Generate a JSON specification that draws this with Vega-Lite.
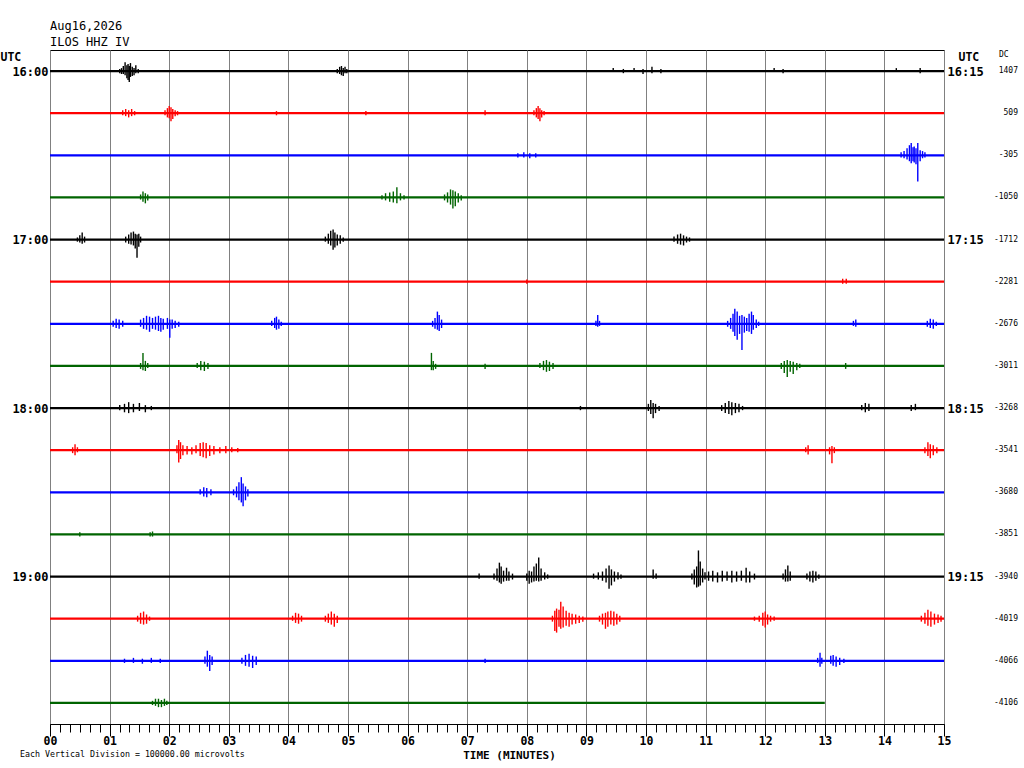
{
  "$schema": "https://vega.github.io/schema/vega-lite/v6.json",
  "width": 894,
  "height": 674,
  "autosize": "none",
  "padding": {"left": 50, "top": 50, "right": 80, "bottom": 44},
  "background": "white",
  "view": {"stroke": "black", "strokeWidth": 1},
  "title": {
    "text": ["Aug16,2026", "ILOS HHZ IV"],
    "anchor": "start",
    "frame": "group",
    "font": "DejaVu Sans Mono",
    "fontSize": 12,
    "fontWeight": "normal",
    "lineHeight": 16,
    "offset": 1,
    "color": "black"
  },
  "datasets": {
    "traces": [
      {"k": 0, "t0": 0, "t1": 15}, {"k": 1, "t0": 0, "t1": 15}, {"k": 2, "t0": 0, "t1": 15}, {"k": 3, "t0": 0, "t1": 15},
      {"k": 4, "t0": 0, "t1": 15}, {"k": 5, "t0": 0, "t1": 15}, {"k": 6, "t0": 0, "t1": 15}, {"k": 7, "t0": 0, "t1": 15},
      {"k": 8, "t0": 0, "t1": 15}, {"k": 9, "t0": 0, "t1": 15}, {"k": 10, "t0": 0, "t1": 15}, {"k": 11, "t0": 0, "t1": 15},
      {"k": 12, "t0": 0, "t1": 15}, {"k": 13, "t0": 0, "t1": 15}, {"k": 14, "t0": 0, "t1": 15}, {"k": 15, "t0": 0, "t1": 13}
    ],
    "wiggles": [
      {"k": 0, "t": 1.17, "y": -0.05, "y2": 0.05}, {"k": 0, "t": 1.2, "y": -0.07, "y2": 0.07}, {"k": 0, "t": 1.23, "y": -0.12, "y2": 0.07},
      {"k": 0, "t": 1.26, "y": -0.21, "y2": 0.1}, {"k": 0, "t": 1.29, "y": -0.14, "y2": 0.17}, {"k": 0, "t": 1.31, "y": -0.17, "y2": 0.21},
      {"k": 0, "t": 1.33, "y": -0.12, "y2": 0.26}, {"k": 0, "t": 1.35, "y": -0.19, "y2": 0.14}, {"k": 0, "t": 1.38, "y": -0.1, "y2": 0.12},
      {"k": 0, "t": 1.41, "y": -0.07, "y2": 0.1}, {"k": 0, "t": 1.44, "y": -0.14, "y2": 0.05}, {"k": 0, "t": 1.48, "y": -0.05, "y2": 0.05},
      {"k": 0, "t": 4.82, "y": -0.05, "y2": 0.05}, {"k": 0, "t": 4.86, "y": -0.1, "y2": 0.07}, {"k": 0, "t": 4.89, "y": -0.12, "y2": 0.1},
      {"k": 0, "t": 4.92, "y": -0.07, "y2": 0.12}, {"k": 0, "t": 4.95, "y": -0.1, "y2": 0.05}, {"k": 0, "t": 4.98, "y": -0.05, "y2": 0.05},
      {"k": 0, "t": 9.45, "y": -0.07, "y2": 0.02}, {"k": 0, "t": 9.62, "y": -0.05, "y2": 0.05}, {"k": 0, "t": 9.8, "y": -0.07, "y2": 0.02},
      {"k": 0, "t": 9.95, "y": -0.05, "y2": 0.07}, {"k": 0, "t": 10.1, "y": -0.1, "y2": 0.05}, {"k": 0, "t": 10.25, "y": -0.05, "y2": 0.05},
      {"k": 0, "t": 12.15, "y": -0.07, "y2": 0.02}, {"k": 0, "t": 12.3, "y": -0.05, "y2": 0.05}, {"k": 0, "t": 14.2, "y": -0.07, "y2": 0.02},
      {"k": 0, "t": 14.6, "y": -0.07, "y2": 0.05},

      {"k": 1, "t": 1.22, "y": 0.93, "y2": 1.05}, {"k": 1, "t": 1.27, "y": 0.9, "y2": 1.07}, {"k": 1, "t": 1.32, "y": 0.93, "y2": 1.1},
      {"k": 1, "t": 1.37, "y": 0.9, "y2": 1.07}, {"k": 1, "t": 1.42, "y": 0.95, "y2": 1.05}, {"k": 1, "t": 1.93, "y": 0.93, "y2": 1.05},
      {"k": 1, "t": 1.97, "y": 0.88, "y2": 1.1}, {"k": 1, "t": 2.0, "y": 0.83, "y2": 1.12}, {"k": 1, "t": 2.03, "y": 0.86, "y2": 1.19},
      {"k": 1, "t": 2.06, "y": 0.9, "y2": 1.14}, {"k": 1, "t": 2.1, "y": 0.93, "y2": 1.07}, {"k": 1, "t": 2.14, "y": 0.95, "y2": 1.05},
      {"k": 1, "t": 8.12, "y": 0.93, "y2": 1.05}, {"k": 1, "t": 8.16, "y": 0.88, "y2": 1.1}, {"k": 1, "t": 8.19, "y": 0.83, "y2": 1.14},
      {"k": 1, "t": 8.22, "y": 0.88, "y2": 1.19}, {"k": 1, "t": 8.25, "y": 0.93, "y2": 1.1}, {"k": 1, "t": 8.29, "y": 0.95, "y2": 1.05},
      {"k": 1, "t": 3.8, "y": 0.95, "y2": 1.05}, {"k": 1, "t": 5.3, "y": 0.95, "y2": 1.05}, {"k": 1, "t": 7.3, "y": 0.93, "y2": 1.05},

      {"k": 2, "t": 7.85, "y": 1.95, "y2": 2.05}, {"k": 2, "t": 7.95, "y": 1.93, "y2": 2.05}, {"k": 2, "t": 8.05, "y": 1.95, "y2": 2.07},
      {"k": 2, "t": 8.15, "y": 1.95, "y2": 2.05}, {"k": 2, "t": 14.28, "y": 1.93, "y2": 2.05}, {"k": 2, "t": 14.33, "y": 1.9, "y2": 2.07},
      {"k": 2, "t": 14.38, "y": 1.83, "y2": 2.1}, {"k": 2, "t": 14.42, "y": 1.76, "y2": 2.14}, {"k": 2, "t": 14.45, "y": 1.71, "y2": 2.19},
      {"k": 2, "t": 14.48, "y": 1.81, "y2": 2.14}, {"k": 2, "t": 14.5, "y": 1.79, "y2": 2.17}, {"k": 2, "t": 14.53, "y": 1.83, "y2": 2.21},
      {"k": 2, "t": 14.56, "y": 1.71, "y2": 2.62}, {"k": 2, "t": 14.6, "y": 1.88, "y2": 2.14}, {"k": 2, "t": 14.64, "y": 1.9, "y2": 2.07},
      {"k": 2, "t": 14.68, "y": 1.93, "y2": 2.05},

      {"k": 3, "t": 1.52, "y": 2.93, "y2": 3.05}, {"k": 3, "t": 1.56, "y": 2.86, "y2": 3.1}, {"k": 3, "t": 1.6, "y": 2.9, "y2": 3.14},
      {"k": 3, "t": 1.64, "y": 2.93, "y2": 3.07}, {"k": 3, "t": 5.57, "y": 2.95, "y2": 3.05}, {"k": 3, "t": 5.63, "y": 2.9, "y2": 3.07},
      {"k": 3, "t": 5.7, "y": 2.88, "y2": 3.1}, {"k": 3, "t": 5.76, "y": 2.86, "y2": 3.12}, {"k": 3, "t": 5.82, "y": 2.76, "y2": 3.14},
      {"k": 3, "t": 5.88, "y": 2.9, "y2": 3.07}, {"k": 3, "t": 5.94, "y": 2.95, "y2": 3.05}, {"k": 3, "t": 6.62, "y": 2.93, "y2": 3.07},
      {"k": 3, "t": 6.67, "y": 2.88, "y2": 3.12}, {"k": 3, "t": 6.72, "y": 2.81, "y2": 3.17}, {"k": 3, "t": 6.76, "y": 2.83, "y2": 3.26},
      {"k": 3, "t": 6.8, "y": 2.86, "y2": 3.21}, {"k": 3, "t": 6.85, "y": 2.9, "y2": 3.12}, {"k": 3, "t": 6.9, "y": 2.95, "y2": 3.07},

      {"k": 4, "t": 0.46, "y": 3.95, "y2": 4.05}, {"k": 4, "t": 0.5, "y": 3.9, "y2": 4.07}, {"k": 4, "t": 0.54, "y": 3.83, "y2": 4.1},
      {"k": 4, "t": 0.58, "y": 3.93, "y2": 4.07}, {"k": 4, "t": 1.27, "y": 3.93, "y2": 4.07}, {"k": 4, "t": 1.32, "y": 3.88, "y2": 4.1},
      {"k": 4, "t": 1.36, "y": 3.83, "y2": 4.12}, {"k": 4, "t": 1.4, "y": 3.81, "y2": 4.14}, {"k": 4, "t": 1.43, "y": 3.86, "y2": 4.21},
      {"k": 4, "t": 1.46, "y": 3.88, "y2": 4.43}, {"k": 4, "t": 1.49, "y": 3.86, "y2": 4.17}, {"k": 4, "t": 1.52, "y": 3.93, "y2": 4.07},
      {"k": 4, "t": 4.62, "y": 3.93, "y2": 4.05}, {"k": 4, "t": 4.67, "y": 3.86, "y2": 4.1}, {"k": 4, "t": 4.71, "y": 3.79, "y2": 4.14},
      {"k": 4, "t": 4.75, "y": 3.76, "y2": 4.24}, {"k": 4, "t": 4.78, "y": 3.83, "y2": 4.19}, {"k": 4, "t": 4.82, "y": 3.88, "y2": 4.14},
      {"k": 4, "t": 4.87, "y": 3.9, "y2": 4.1}, {"k": 4, "t": 4.92, "y": 3.95, "y2": 4.05}, {"k": 4, "t": 10.47, "y": 3.93, "y2": 4.05},
      {"k": 4, "t": 10.53, "y": 3.88, "y2": 4.1}, {"k": 4, "t": 10.58, "y": 3.86, "y2": 4.12}, {"k": 4, "t": 10.63, "y": 3.9, "y2": 4.14},
      {"k": 4, "t": 10.68, "y": 3.93, "y2": 4.07}, {"k": 4, "t": 10.73, "y": 3.95, "y2": 4.05},

      {"k": 5, "t": 8.0, "y": 4.95, "y2": 5.05}, {"k": 5, "t": 13.3, "y": 4.93, "y2": 5.05}, {"k": 5, "t": 13.36, "y": 4.93, "y2": 5.05},

      {"k": 6, "t": 1.06, "y": 5.93, "y2": 6.07}, {"k": 6, "t": 1.11, "y": 5.88, "y2": 6.1}, {"k": 6, "t": 1.16, "y": 5.9, "y2": 6.12},
      {"k": 6, "t": 1.22, "y": 5.93, "y2": 6.07}, {"k": 6, "t": 1.52, "y": 5.9, "y2": 6.07}, {"k": 6, "t": 1.57, "y": 5.86, "y2": 6.12},
      {"k": 6, "t": 1.62, "y": 5.81, "y2": 6.14}, {"k": 6, "t": 1.67, "y": 5.83, "y2": 6.19}, {"k": 6, "t": 1.72, "y": 5.86, "y2": 6.12},
      {"k": 6, "t": 1.77, "y": 5.83, "y2": 6.14}, {"k": 6, "t": 1.82, "y": 5.81, "y2": 6.17}, {"k": 6, "t": 1.86, "y": 5.86, "y2": 6.19},
      {"k": 6, "t": 1.9, "y": 5.88, "y2": 6.14}, {"k": 6, "t": 1.97, "y": 5.86, "y2": 6.12}, {"k": 6, "t": 2.01, "y": 5.9, "y2": 6.33},
      {"k": 6, "t": 2.05, "y": 5.9, "y2": 6.12}, {"k": 6, "t": 2.1, "y": 5.93, "y2": 6.1}, {"k": 6, "t": 2.16, "y": 5.95, "y2": 6.07},
      {"k": 6, "t": 3.72, "y": 5.93, "y2": 6.05}, {"k": 6, "t": 3.77, "y": 5.86, "y2": 6.1}, {"k": 6, "t": 3.8, "y": 5.83, "y2": 6.14},
      {"k": 6, "t": 3.84, "y": 5.9, "y2": 6.12}, {"k": 6, "t": 3.88, "y": 5.95, "y2": 6.05}, {"k": 6, "t": 6.42, "y": 5.93, "y2": 6.07},
      {"k": 6, "t": 6.46, "y": 5.86, "y2": 6.12}, {"k": 6, "t": 6.5, "y": 5.71, "y2": 6.14}, {"k": 6, "t": 6.53, "y": 5.79, "y2": 6.17},
      {"k": 6, "t": 6.57, "y": 5.9, "y2": 6.1}, {"k": 6, "t": 9.16, "y": 5.93, "y2": 6.05}, {"k": 6, "t": 9.19, "y": 5.79, "y2": 6.07},
      {"k": 6, "t": 9.22, "y": 5.93, "y2": 6.05}, {"k": 6, "t": 11.37, "y": 5.93, "y2": 6.07}, {"k": 6, "t": 11.42, "y": 5.86, "y2": 6.12},
      {"k": 6, "t": 11.46, "y": 5.76, "y2": 6.19}, {"k": 6, "t": 11.49, "y": 5.64, "y2": 6.29}, {"k": 6, "t": 11.53, "y": 5.71, "y2": 6.38},
      {"k": 6, "t": 11.57, "y": 5.81, "y2": 6.24}, {"k": 6, "t": 11.61, "y": 5.79, "y2": 6.62}, {"k": 6, "t": 11.65, "y": 5.83, "y2": 6.21},
      {"k": 6, "t": 11.69, "y": 5.86, "y2": 6.17}, {"k": 6, "t": 11.73, "y": 5.76, "y2": 6.19}, {"k": 6, "t": 11.77, "y": 5.71, "y2": 6.24},
      {"k": 6, "t": 11.8, "y": 5.79, "y2": 6.14}, {"k": 6, "t": 11.85, "y": 5.9, "y2": 6.1}, {"k": 6, "t": 11.89, "y": 5.95, "y2": 6.05},
      {"k": 6, "t": 13.48, "y": 5.93, "y2": 6.05}, {"k": 6, "t": 13.52, "y": 5.9, "y2": 6.07}, {"k": 6, "t": 14.72, "y": 5.93, "y2": 6.07},
      {"k": 6, "t": 14.77, "y": 5.88, "y2": 6.1}, {"k": 6, "t": 14.82, "y": 5.9, "y2": 6.12}, {"k": 6, "t": 14.87, "y": 5.95, "y2": 6.05},

      {"k": 7, "t": 1.52, "y": 6.93, "y2": 7.07}, {"k": 7, "t": 1.56, "y": 6.69, "y2": 7.1}, {"k": 7, "t": 1.6, "y": 6.88, "y2": 7.12},
      {"k": 7, "t": 1.64, "y": 6.93, "y2": 7.05}, {"k": 7, "t": 2.47, "y": 6.93, "y2": 7.05}, {"k": 7, "t": 2.53, "y": 6.88, "y2": 7.1},
      {"k": 7, "t": 2.59, "y": 6.9, "y2": 7.12}, {"k": 7, "t": 2.65, "y": 6.93, "y2": 7.07}, {"k": 7, "t": 6.4, "y": 6.69, "y2": 7.1},
      {"k": 7, "t": 6.43, "y": 6.88, "y2": 7.1}, {"k": 7, "t": 6.47, "y": 6.95, "y2": 7.07}, {"k": 7, "t": 7.3, "y": 6.95, "y2": 7.07},
      {"k": 7, "t": 8.22, "y": 6.93, "y2": 7.05}, {"k": 7, "t": 8.28, "y": 6.88, "y2": 7.1}, {"k": 7, "t": 8.33, "y": 6.86, "y2": 7.14},
      {"k": 7, "t": 8.38, "y": 6.9, "y2": 7.12}, {"k": 7, "t": 8.44, "y": 6.93, "y2": 7.07}, {"k": 7, "t": 12.27, "y": 6.93, "y2": 7.07},
      {"k": 7, "t": 12.32, "y": 6.88, "y2": 7.17}, {"k": 7, "t": 12.37, "y": 6.86, "y2": 7.26}, {"k": 7, "t": 12.42, "y": 6.88, "y2": 7.14},
      {"k": 7, "t": 12.47, "y": 6.9, "y2": 7.19}, {"k": 7, "t": 12.53, "y": 6.93, "y2": 7.1}, {"k": 7, "t": 12.58, "y": 6.95, "y2": 7.05},
      {"k": 7, "t": 13.35, "y": 6.93, "y2": 7.07},

      {"k": 8, "t": 1.17, "y": 7.93, "y2": 8.05}, {"k": 8, "t": 1.25, "y": 7.9, "y2": 8.1}, {"k": 8, "t": 1.32, "y": 7.86, "y2": 8.12},
      {"k": 8, "t": 1.4, "y": 7.9, "y2": 8.1}, {"k": 8, "t": 1.5, "y": 7.88, "y2": 8.07}, {"k": 8, "t": 1.6, "y": 7.93, "y2": 8.1},
      {"k": 8, "t": 1.7, "y": 7.95, "y2": 8.05}, {"k": 8, "t": 8.9, "y": 7.95, "y2": 8.05}, {"k": 8, "t": 10.04, "y": 7.9, "y2": 8.07},
      {"k": 8, "t": 10.08, "y": 7.81, "y2": 8.14}, {"k": 8, "t": 10.12, "y": 7.88, "y2": 8.24}, {"k": 8, "t": 10.16, "y": 7.9, "y2": 8.12},
      {"k": 8, "t": 10.22, "y": 7.95, "y2": 8.07}, {"k": 8, "t": 11.27, "y": 7.93, "y2": 8.07}, {"k": 8, "t": 11.33, "y": 7.88, "y2": 8.12},
      {"k": 8, "t": 11.39, "y": 7.83, "y2": 8.14}, {"k": 8, "t": 11.44, "y": 7.86, "y2": 8.17}, {"k": 8, "t": 11.5, "y": 7.88, "y2": 8.12},
      {"k": 8, "t": 11.56, "y": 7.9, "y2": 8.1}, {"k": 8, "t": 11.62, "y": 7.95, "y2": 8.05}, {"k": 8, "t": 13.62, "y": 7.93, "y2": 8.05},
      {"k": 8, "t": 13.68, "y": 7.88, "y2": 8.1}, {"k": 8, "t": 13.74, "y": 7.9, "y2": 8.07}, {"k": 8, "t": 14.45, "y": 7.93, "y2": 8.07},
      {"k": 8, "t": 14.52, "y": 7.9, "y2": 8.05},

      {"k": 9, "t": 0.38, "y": 8.93, "y2": 9.07}, {"k": 9, "t": 0.42, "y": 8.86, "y2": 9.12}, {"k": 9, "t": 0.46, "y": 8.93, "y2": 9.05},
      {"k": 9, "t": 2.13, "y": 8.88, "y2": 9.07}, {"k": 9, "t": 2.16, "y": 8.76, "y2": 9.29}, {"k": 9, "t": 2.19, "y": 8.81, "y2": 9.21},
      {"k": 9, "t": 2.23, "y": 8.88, "y2": 9.12}, {"k": 9, "t": 2.3, "y": 8.9, "y2": 9.1}, {"k": 9, "t": 2.38, "y": 8.93, "y2": 9.1},
      {"k": 9, "t": 2.45, "y": 8.88, "y2": 9.07}, {"k": 9, "t": 2.52, "y": 8.83, "y2": 9.14}, {"k": 9, "t": 2.57, "y": 8.81, "y2": 9.17},
      {"k": 9, "t": 2.62, "y": 8.83, "y2": 9.19}, {"k": 9, "t": 2.68, "y": 8.88, "y2": 9.14}, {"k": 9, "t": 2.75, "y": 8.9, "y2": 9.1},
      {"k": 9, "t": 2.85, "y": 8.93, "y2": 9.07}, {"k": 9, "t": 2.95, "y": 8.9, "y2": 9.07}, {"k": 9, "t": 3.05, "y": 8.93, "y2": 9.05},
      {"k": 9, "t": 3.15, "y": 8.95, "y2": 9.05}, {"k": 9, "t": 12.68, "y": 8.93, "y2": 9.05}, {"k": 9, "t": 12.72, "y": 8.88, "y2": 9.1},
      {"k": 9, "t": 13.08, "y": 8.93, "y2": 9.1}, {"k": 9, "t": 13.12, "y": 8.9, "y2": 9.31}, {"k": 9, "t": 13.16, "y": 8.93, "y2": 9.07},
      {"k": 9, "t": 14.68, "y": 8.93, "y2": 9.07}, {"k": 9, "t": 14.73, "y": 8.81, "y2": 9.14}, {"k": 9, "t": 14.77, "y": 8.86, "y2": 9.19},
      {"k": 9, "t": 14.82, "y": 8.88, "y2": 9.12}, {"k": 9, "t": 14.88, "y": 8.93, "y2": 9.07},

      {"k": 10, "t": 2.52, "y": 9.93, "y2": 10.05}, {"k": 10, "t": 2.58, "y": 9.88, "y2": 10.1}, {"k": 10, "t": 2.63, "y": 9.9, "y2": 10.12},
      {"k": 10, "t": 2.7, "y": 9.93, "y2": 10.07}, {"k": 10, "t": 3.08, "y": 9.93, "y2": 10.07}, {"k": 10, "t": 3.13, "y": 9.86, "y2": 10.12},
      {"k": 10, "t": 3.17, "y": 9.76, "y2": 10.19}, {"k": 10, "t": 3.21, "y": 9.64, "y2": 10.24}, {"k": 10, "t": 3.24, "y": 9.79, "y2": 10.33},
      {"k": 10, "t": 3.28, "y": 9.86, "y2": 10.19}, {"k": 10, "t": 3.32, "y": 9.93, "y2": 10.1},

      {"k": 11, "t": 0.5, "y": 10.95, "y2": 11.05}, {"k": 11, "t": 1.68, "y": 10.95, "y2": 11.05}, {"k": 11, "t": 1.72, "y": 10.93, "y2": 11.05},

      {"k": 12, "t": 7.2, "y": 11.93, "y2": 12.05}, {"k": 12, "t": 7.45, "y": 11.93, "y2": 12.07}, {"k": 12, "t": 7.5, "y": 11.81, "y2": 12.1},
      {"k": 12, "t": 7.54, "y": 11.67, "y2": 12.14}, {"k": 12, "t": 7.57, "y": 11.76, "y2": 12.17}, {"k": 12, "t": 7.61, "y": 11.86, "y2": 12.12},
      {"k": 12, "t": 7.66, "y": 11.79, "y2": 12.1}, {"k": 12, "t": 7.7, "y": 11.88, "y2": 12.1}, {"k": 12, "t": 7.76, "y": 11.93, "y2": 12.07},
      {"k": 12, "t": 8.0, "y": 11.93, "y2": 12.1}, {"k": 12, "t": 8.04, "y": 11.86, "y2": 12.17}, {"k": 12, "t": 8.08, "y": 11.88, "y2": 12.14},
      {"k": 12, "t": 8.12, "y": 11.76, "y2": 12.12}, {"k": 12, "t": 8.16, "y": 11.69, "y2": 12.1}, {"k": 12, "t": 8.2, "y": 11.55, "y2": 12.12},
      {"k": 12, "t": 8.24, "y": 11.81, "y2": 12.1}, {"k": 12, "t": 8.3, "y": 11.9, "y2": 12.07}, {"k": 12, "t": 8.35, "y": 11.95, "y2": 12.05},
      {"k": 12, "t": 9.12, "y": 11.93, "y2": 12.05}, {"k": 12, "t": 9.2, "y": 11.9, "y2": 12.07}, {"k": 12, "t": 9.27, "y": 11.88, "y2": 12.1},
      {"k": 12, "t": 9.33, "y": 11.81, "y2": 12.14}, {"k": 12, "t": 9.38, "y": 11.74, "y2": 12.29}, {"k": 12, "t": 9.42, "y": 11.83, "y2": 12.21},
      {"k": 12, "t": 9.47, "y": 11.88, "y2": 12.12}, {"k": 12, "t": 9.53, "y": 11.9, "y2": 12.07}, {"k": 12, "t": 9.58, "y": 11.95, "y2": 12.05},
      {"k": 12, "t": 10.12, "y": 11.83, "y2": 12.05}, {"k": 12, "t": 10.17, "y": 11.93, "y2": 12.05}, {"k": 12, "t": 10.77, "y": 11.93, "y2": 12.07},
      {"k": 12, "t": 10.81, "y": 11.83, "y2": 12.19}, {"k": 12, "t": 10.85, "y": 11.76, "y2": 12.26}, {"k": 12, "t": 10.88, "y": 11.38, "y2": 12.24},
      {"k": 12, "t": 10.91, "y": 11.64, "y2": 12.21}, {"k": 12, "t": 10.95, "y": 11.81, "y2": 12.14}, {"k": 12, "t": 10.99, "y": 11.9, "y2": 12.07},
      {"k": 12, "t": 11.05, "y": 11.88, "y2": 12.1}, {"k": 12, "t": 11.12, "y": 11.86, "y2": 12.12}, {"k": 12, "t": 11.2, "y": 11.9, "y2": 12.14},
      {"k": 12, "t": 11.28, "y": 11.86, "y2": 12.12}, {"k": 12, "t": 11.36, "y": 11.88, "y2": 12.1}, {"k": 12, "t": 11.44, "y": 11.86, "y2": 12.14},
      {"k": 12, "t": 11.52, "y": 11.88, "y2": 12.12}, {"k": 12, "t": 11.6, "y": 11.86, "y2": 12.1}, {"k": 12, "t": 11.68, "y": 11.79, "y2": 12.14},
      {"k": 12, "t": 11.74, "y": 11.88, "y2": 12.14}, {"k": 12, "t": 11.82, "y": 11.93, "y2": 12.07}, {"k": 12, "t": 12.3, "y": 11.93, "y2": 12.07},
      {"k": 12, "t": 12.34, "y": 11.83, "y2": 12.12}, {"k": 12, "t": 12.38, "y": 11.74, "y2": 12.12}, {"k": 12, "t": 12.42, "y": 11.88, "y2": 12.1},
      {"k": 12, "t": 12.7, "y": 11.93, "y2": 12.07}, {"k": 12, "t": 12.75, "y": 11.88, "y2": 12.12}, {"k": 12, "t": 12.8, "y": 11.86, "y2": 12.14},
      {"k": 12, "t": 12.85, "y": 11.88, "y2": 12.1}, {"k": 12, "t": 12.9, "y": 11.95, "y2": 12.05},

      {"k": 13, "t": 1.47, "y": 12.93, "y2": 13.07}, {"k": 13, "t": 1.52, "y": 12.86, "y2": 13.12}, {"k": 13, "t": 1.57, "y": 12.83, "y2": 13.14},
      {"k": 13, "t": 1.62, "y": 12.9, "y2": 13.12}, {"k": 13, "t": 1.67, "y": 12.95, "y2": 13.05}, {"k": 13, "t": 4.07, "y": 12.93, "y2": 13.05},
      {"k": 13, "t": 4.12, "y": 12.86, "y2": 13.1}, {"k": 13, "t": 4.17, "y": 12.88, "y2": 13.12}, {"k": 13, "t": 4.22, "y": 12.93, "y2": 13.07},
      {"k": 13, "t": 4.62, "y": 12.93, "y2": 13.07}, {"k": 13, "t": 4.67, "y": 12.88, "y2": 13.1}, {"k": 13, "t": 4.72, "y": 12.83, "y2": 13.14},
      {"k": 13, "t": 4.77, "y": 12.88, "y2": 13.19}, {"k": 13, "t": 4.82, "y": 12.93, "y2": 13.1}, {"k": 13, "t": 8.43, "y": 12.93, "y2": 13.07},
      {"k": 13, "t": 8.47, "y": 12.81, "y2": 13.29}, {"k": 13, "t": 8.5, "y": 12.76, "y2": 13.33}, {"k": 13, "t": 8.54, "y": 12.79, "y2": 13.19},
      {"k": 13, "t": 8.57, "y": 12.6, "y2": 13.24}, {"k": 13, "t": 8.61, "y": 12.71, "y2": 13.21}, {"k": 13, "t": 8.66, "y": 12.81, "y2": 13.17},
      {"k": 13, "t": 8.71, "y": 12.86, "y2": 13.19}, {"k": 13, "t": 8.76, "y": 12.88, "y2": 13.14}, {"k": 13, "t": 8.82, "y": 12.9, "y2": 13.12},
      {"k": 13, "t": 8.88, "y": 12.93, "y2": 13.1}, {"k": 13, "t": 8.94, "y": 12.95, "y2": 13.07}, {"k": 13, "t": 9.22, "y": 12.93, "y2": 13.07},
      {"k": 13, "t": 9.27, "y": 12.88, "y2": 13.14}, {"k": 13, "t": 9.32, "y": 12.86, "y2": 13.24}, {"k": 13, "t": 9.36, "y": 12.83, "y2": 13.19},
      {"k": 13, "t": 9.41, "y": 12.81, "y2": 13.14}, {"k": 13, "t": 9.46, "y": 12.83, "y2": 13.17}, {"k": 13, "t": 9.51, "y": 12.88, "y2": 13.14},
      {"k": 13, "t": 9.56, "y": 12.93, "y2": 13.07}, {"k": 13, "t": 11.82, "y": 12.95, "y2": 13.05}, {"k": 13, "t": 11.9, "y": 12.93, "y2": 13.07},
      {"k": 13, "t": 11.96, "y": 12.86, "y2": 13.17}, {"k": 13, "t": 12.0, "y": 12.83, "y2": 13.21}, {"k": 13, "t": 12.04, "y": 12.9, "y2": 13.14},
      {"k": 13, "t": 12.09, "y": 12.93, "y2": 13.07}, {"k": 13, "t": 12.15, "y": 12.95, "y2": 13.05}, {"k": 13, "t": 14.62, "y": 12.93, "y2": 13.07},
      {"k": 13, "t": 14.68, "y": 12.86, "y2": 13.12}, {"k": 13, "t": 14.73, "y": 12.79, "y2": 13.17}, {"k": 13, "t": 14.78, "y": 12.83, "y2": 13.19},
      {"k": 13, "t": 14.84, "y": 12.88, "y2": 13.14}, {"k": 13, "t": 14.9, "y": 12.9, "y2": 13.1}, {"k": 13, "t": 14.95, "y": 12.93, "y2": 13.07},

      {"k": 14, "t": 1.25, "y": 13.95, "y2": 14.05}, {"k": 14, "t": 1.4, "y": 13.93, "y2": 14.05}, {"k": 14, "t": 1.55, "y": 13.95, "y2": 14.07},
      {"k": 14, "t": 1.7, "y": 13.93, "y2": 14.05}, {"k": 14, "t": 1.85, "y": 13.95, "y2": 14.05}, {"k": 14, "t": 2.6, "y": 13.9, "y2": 14.07},
      {"k": 14, "t": 2.64, "y": 13.76, "y2": 14.14}, {"k": 14, "t": 2.68, "y": 13.86, "y2": 14.24}, {"k": 14, "t": 2.72, "y": 13.9, "y2": 14.1},
      {"k": 14, "t": 3.22, "y": 13.93, "y2": 14.07}, {"k": 14, "t": 3.28, "y": 13.86, "y2": 14.12}, {"k": 14, "t": 3.34, "y": 13.83, "y2": 14.14},
      {"k": 14, "t": 3.4, "y": 13.88, "y2": 14.17}, {"k": 14, "t": 3.46, "y": 13.9, "y2": 14.1}, {"k": 14, "t": 7.3, "y": 13.95, "y2": 14.05},
      {"k": 14, "t": 12.88, "y": 13.93, "y2": 14.05}, {"k": 14, "t": 12.92, "y": 13.81, "y2": 14.14}, {"k": 14, "t": 12.95, "y": 13.93, "y2": 14.07},
      {"k": 14, "t": 13.1, "y": 13.88, "y2": 14.07}, {"k": 14, "t": 13.14, "y": 13.86, "y2": 14.12}, {"k": 14, "t": 13.19, "y": 13.9, "y2": 14.14},
      {"k": 14, "t": 13.25, "y": 13.93, "y2": 14.1}, {"k": 14, "t": 13.32, "y": 13.95, "y2": 14.05},

      {"k": 15, "t": 1.72, "y": 14.95, "y2": 15.05}, {"k": 15, "t": 1.77, "y": 14.9, "y2": 15.07}, {"k": 15, "t": 1.82, "y": 14.9, "y2": 15.1},
      {"k": 15, "t": 1.87, "y": 14.93, "y2": 15.1}, {"k": 15, "t": 1.92, "y": 14.9, "y2": 15.07}, {"k": 15, "t": 1.96, "y": 14.95, "y2": 15.05}
    ],
    "dc": [
      {"k": 0, "dc": "1407"}, {"k": 1, "dc": "509"}, {"k": 2, "dc": "-305"}, {"k": 3, "dc": "-1050"},
      {"k": 4, "dc": "-1712"}, {"k": 5, "dc": "-2281"}, {"k": 6, "dc": "-2676"}, {"k": 7, "dc": "-3011"},
      {"k": 8, "dc": "-3268"}, {"k": 9, "dc": "-3541"}, {"k": 10, "dc": "-3680"}, {"k": 11, "dc": "-3851"},
      {"k": 12, "dc": "-3940"}, {"k": 13, "dc": "-4019"}, {"k": 14, "dc": "-4066"}, {"k": 15, "dc": "-4106"}
    ],
    "notes": [
      {"label": "Each Vertical Division = 100000.00 microvolts"}
    ],
    "heads": [
      {"label": "DC"}
    ]
  },
  "resolve": {"axis": {"x": "independent", "y": "independent"}},
  "layer": [
    {
      "data": {"name": "traces"},
      "mark": {"type": "rule", "strokeWidth": 2.2},
      "encoding": {
        "x": {
          "field": "t0",
          "type": "quantitative",
          "scale": {"domain": [0, 15], "nice": false, "zero": false},
          "axis": {
            "orient": "bottom",
            "values": [0, 0.1667, 0.3333, 0.5, 0.6667, 0.8333, 1, 1.1667, 1.3333, 1.5, 1.6667, 1.8333, 2, 2.1667, 2.3333, 2.5, 2.6667, 2.8333,
                       3, 3.1667, 3.3333, 3.5, 3.6667, 3.8333, 4, 4.1667, 4.3333, 4.5, 4.6667, 4.8333, 5, 5.1667, 5.3333, 5.5, 5.6667, 5.8333,
                       6, 6.1667, 6.3333, 6.5, 6.6667, 6.8333, 7, 7.1667, 7.3333, 7.5, 7.6667, 7.8333, 8, 8.1667, 8.3333, 8.5, 8.6667, 8.8333,
                       9, 9.1667, 9.3333, 9.5, 9.6667, 9.8333, 10, 10.1667, 10.3333, 10.5, 10.6667, 10.8333, 11, 11.1667, 11.3333, 11.5, 11.6667, 11.8333,
                       12, 12.1667, 12.3333, 12.5, 12.6667, 12.8333, 13, 13.1667, 13.3333, 13.5, 13.6667, 13.8333, 14, 14.1667, 14.3333, 14.5, 14.6667, 14.8333, 15],
            "labelExpr": "datum.value % 1 == 0 ? (datum.value < 10 ? '0' : '') + datum.value : ''",
            "labelOverlap": false,
            "labelFlush": false,
            "labelFont": "DejaVu Sans Mono",
            "labelFontSize": 11.5,
            "labelFontWeight": "bold",
            "labelColor": "black",
            "labelPadding": -1,
            "ticks": true,
            "tickColor": "black",
            "tickWidth": 1,
            "tickSize": {"condition": {"test": "datum.value % 1 == 0", "value": 12}, "value": 8},
            "domainColor": "black",
            "grid": true,
            "gridColor": "#808080",
            "gridWidth": 1,
            "gridOpacity": {"condition": {"test": "datum.value % 1 == 0", "value": 1}, "value": 0},
            "title": "TIME (MINUTES)",
            "titleFont": "DejaVu Sans Mono",
            "titleFontSize": 11,
            "titleFontWeight": "bold",
            "titleColor": "black",
            "titleX": 459,
            "titleY": 31,
            "titleBaseline": "middle",
            "titleAlign": "center"
          }
        },
        "x2": {"field": "t1"},
        "y": {
          "field": "k",
          "type": "quantitative",
          "scale": {"domain": [-0.5, 15.5], "reverse": true, "nice": false, "zero": false},
          "axis": {
            "orient": "left",
            "values": [0, 4, 8, 12],
            "labelExpr": "datum.value == 0 ? '16:00' : datum.value == 4 ? '17:00' : datum.value == 8 ? '18:00' : '19:00'",
            "ticks": false,
            "domain": false,
            "grid": false,
            "labelFont": "DejaVu Sans Mono",
            "labelFontSize": 12,
            "labelFontWeight": "bold",
            "labelColor": "black",
            "labelPadding": 2,
            "title": "UTC",
            "titleAngle": 0,
            "titleX": -50,
            "titleY": 7,
            "titleAlign": "left",
            "titleBaseline": "middle",
            "titleFont": "DejaVu Sans Mono",
            "titleFontSize": 11.5,
            "titleFontWeight": "bold",
            "titleColor": "black"
          }
        },
        "color": {
          "field": "k",
          "type": "nominal",
          "scale": {
            "domain": [0, 1, 2, 3, 4, 5, 6, 7, 8, 9, 10, 11, 12, 13, 14, 15],
            "range": ["#000000", "#ff0000", "#0000ff", "#006400", "#000000", "#ff0000", "#0000ff", "#006400",
                      "#000000", "#ff0000", "#0000ff", "#006400", "#000000", "#ff0000", "#0000ff", "#006400"]
          },
          "legend": null
        }
      }
    },
    {
      "data": {"name": "wiggles"},
      "mark": {"type": "rule", "strokeWidth": 1.4},
      "encoding": {
        "x": {"field": "t", "type": "quantitative", "axis": null},
        "y": {
          "field": "y",
          "type": "quantitative",
          "scale": {"domain": [-0.5, 15.5], "reverse": true, "nice": false, "zero": false},
          "axis": {
            "orient": "right",
            "values": [0, 4, 8, 12],
            "labelExpr": "datum.value == 0 ? '16:15' : datum.value == 4 ? '17:15' : datum.value == 8 ? '18:15' : '19:15'",
            "ticks": false,
            "domain": false,
            "grid": false,
            "labelFont": "DejaVu Sans Mono",
            "labelFontSize": 12,
            "labelFontWeight": "bold",
            "labelColor": "black",
            "labelPadding": 3,
            "title": "UTC",
            "titleAngle": 0,
            "titleX": 14,
            "titleY": 7,
            "titleAlign": "left",
            "titleBaseline": "middle",
            "titleFont": "DejaVu Sans Mono",
            "titleFontSize": 11.5,
            "titleFontWeight": "bold",
            "titleColor": "black"
          }
        },
        "y2": {"field": "y2"},
        "color": {"field": "k", "type": "nominal", "legend": null}
      }
    },
    {
      "data": {"name": "dc"},
      "mark": {"type": "text", "align": "right", "baseline": "middle", "dx": 74, "font": "DejaVu Sans Mono", "fontSize": 8, "color": "black"},
      "encoding": {
        "x": {"datum": 15, "type": "quantitative", "axis": null},
        "y": {"field": "k", "type": "quantitative", "axis": null},
        "text": {"field": "dc"}
      }
    },
    {
      "data": {"name": "heads"},
      "mark": {"type": "text", "align": "left", "baseline": "middle", "dx": 55, "dy": 5, "font": "DejaVu Sans Mono", "fontSize": 8, "color": "black"},
      "encoding": {
        "x": {"datum": 15, "type": "quantitative", "axis": null},
        "y": {"datum": -0.5, "type": "quantitative", "axis": null},
        "text": {"field": "label"}
      }
    },
    {
      "data": {"name": "notes"},
      "mark": {"type": "text", "align": "left", "baseline": "middle", "dx": -30, "dy": 31, "font": "DejaVu Sans Mono", "fontSize": 8.3, "color": "black"},
      "encoding": {
        "x": {"datum": 0, "type": "quantitative", "axis": null},
        "y": {"datum": 15.5, "type": "quantitative", "axis": null},
        "text": {"field": "label"}
      }
    }
  ]
}
